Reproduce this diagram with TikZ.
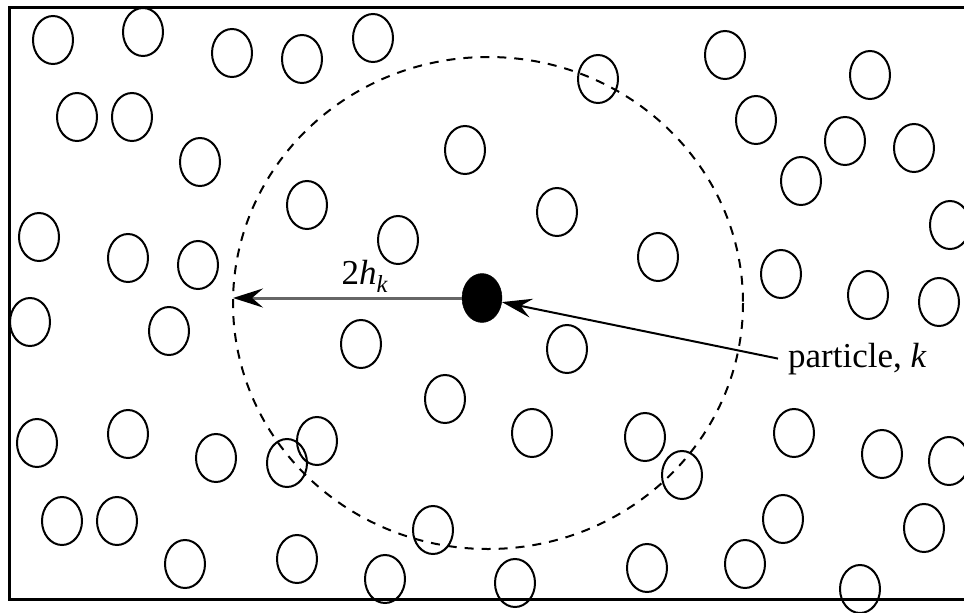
\documentclass[tikz,border=0pt]{standalone}
\usepackage{fontspec}
\setmainfont{Liberation Serif}
\usepackage{tikz}
\usetikzlibrary{arrows.meta,shapes.geometric}
\tikzset{
  boxline/.style = {line width=3pt},
  grain/.style   = {line width=2pt},
  support/.style = {line width=2pt, dash pattern=on 9pt off 8pt},
  kpart/.style   = {ellipse, fill=black, draw=black, inner sep=0pt,
                    minimum width=40pt, minimum height=49pt},
  lbl/.style     = {font=\fontsize{35}{42}\selectfont, inner sep=10pt},
  radar/.style   = {-{Stealth[length=30pt,width=19pt,inset=11pt,black]},
                    black!60, line width=3pt},
  ptr/.style     = {-{Stealth[length=30pt,width=19pt,inset=11pt]},
                    black, line width=2pt}
}

\begin{document}
\begin{tikzpicture}[x=1pt,y=-1pt]
  \useasboundingbox (0,0) rectangle (964,613);
  \clip (0,0) rectangle (964,613);
  % box
  \draw[boxline] (980,7) -- (9,7) -- (9,599) -- (980,599);
  % neighbouring particles
  \foreach \x/\y in {53/40,143/32,232/53,302/59,373/38,598/79,725/55,870/75,
                     77/117,132/117,756/120,845/141,914/148,801/181,
                     200/162,465/150,307/205,557/212,950/225,
                     39/237,128/258,198/265,398/240,658/257,781/274,868/295,939/302,
                     30/322,169/331,361/344,567/349,445/399,
                     37/443,128/434,216/458,287/463,317/441,532/433,645/437,
                     682/475,794/433,882/454,949/461,
                     62/521,117/521,433/530,783/519,924/528,
                     185/564,297/559,385/579,515/583,647/568,745/564,860/589}
    \draw[grain] (\x,\y) ellipse (20 and 24);
  % smoothing region
  \draw[support] (488,303) ellipse (255 and 246);
  \node[kpart] (pk) at (482,298) {};
  \coordinate (rim) at (233,298);
  \draw[radar] (pk.west) -- (rim);
  \node[lbl,anchor=base] (hlab) at (365,284)
       {2\textit{h}\textsubscript{\textit{k}}};
  \node[lbl,anchor=base west] (plab) at (778,367) {particle, \textit{k}};
  \draw[ptr] (plab.west) -- (pk);
\end{tikzpicture}
\end{document}
